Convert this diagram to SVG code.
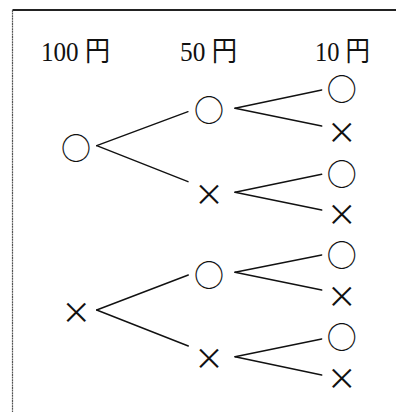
<svg xmlns="http://www.w3.org/2000/svg" width="396" height="412" viewBox="0 0 396 412">
<style>
.hdr{font-family:"Liberation Serif","Noto Sans CJK JP",serif;font-size:28px;fill:#111;}
.sym{font-family:"Noto Sans CJK JP",sans-serif;fill:#111;text-anchor:middle;dominant-baseline:central;}
.o{font-size:30px;}
.x{font-size:30px;}
.edge line{stroke:#111;stroke-width:1.4;stroke-linecap:round;}
</style>
<rect width="396" height="412" fill="#fff"/>
<g id="frame" fill="none">
<path d="M12.5 10 H396" stroke="#222" stroke-width="1.8"/>
<path d="M12.5 10 V412" stroke="#555" stroke-width="1.2" stroke-dasharray="2 0.6"/>
</g>
<g id="headers">
<text class="hdr" x="41" y="61" textLength="69" lengthAdjust="spacingAndGlyphs">100 円</text>
<text class="hdr" x="180" y="61" textLength="57" lengthAdjust="spacingAndGlyphs">50 円</text>
<text class="hdr" x="315" y="61" textLength="55" lengthAdjust="spacingAndGlyphs">10 円</text>
</g>
<g id="connectors" class="edge">
<line x1="96.7" y1="145.7" x2="188" y2="111.7"/>
<line x1="96.7" y1="145.7" x2="188" y2="181.7"/>
<line x1="96.7" y1="310" x2="188.3" y2="275"/>
<line x1="96.7" y1="310" x2="188.3" y2="346"/>
<line x1="235" y1="108.3" x2="321.7" y2="90"/>
<line x1="235" y1="108.3" x2="321.7" y2="126"/>
<line x1="235" y1="192.3" x2="321.7" y2="174.3"/>
<line x1="235" y1="192.3" x2="321.7" y2="210"/>
<line x1="235" y1="272.3" x2="321.7" y2="255"/>
<line x1="235" y1="272.3" x2="321.7" y2="290"/>
<line x1="235" y1="356.7" x2="321.7" y2="339"/>
<line x1="235" y1="356.7" x2="321.7" y2="375"/>
</g>
<g id="n100o"><text class="sym o" x="76" y="146">○</text></g>
<g id="n100x"><text class="sym x" x="76.3" y="310">×</text></g>
<g id="n50oo"><text class="sym o" x="209" y="108.3">○</text></g>
<g id="n50ox"><text class="sym x" x="209" y="192">×</text></g>
<g id="n50xo"><text class="sym o" x="209" y="273.3">○</text></g>
<g id="n50xx"><text class="sym x" x="209" y="355.7">×</text></g>
<g id="n10_1"><text class="sym o" x="341.7" y="87.3">○</text></g>
<g id="n10_2"><text class="sym x" x="341.7" y="130">×</text></g>
<g id="n10_3"><text class="sym o" x="341.7" y="171.7">○</text></g>
<g id="n10_4"><text class="sym x" x="341.7" y="212.3">×</text></g>
<g id="n10_5"><text class="sym o" x="341.7" y="252.7">○</text></g>
<g id="n10_6"><text class="sym x" x="341.7" y="294.3">×</text></g>
<g id="n10_7"><text class="sym o" x="341.7" y="335">○</text></g>
<g id="n10_8"><text class="sym x" x="341.7" y="375.7">×</text></g>
</svg>
